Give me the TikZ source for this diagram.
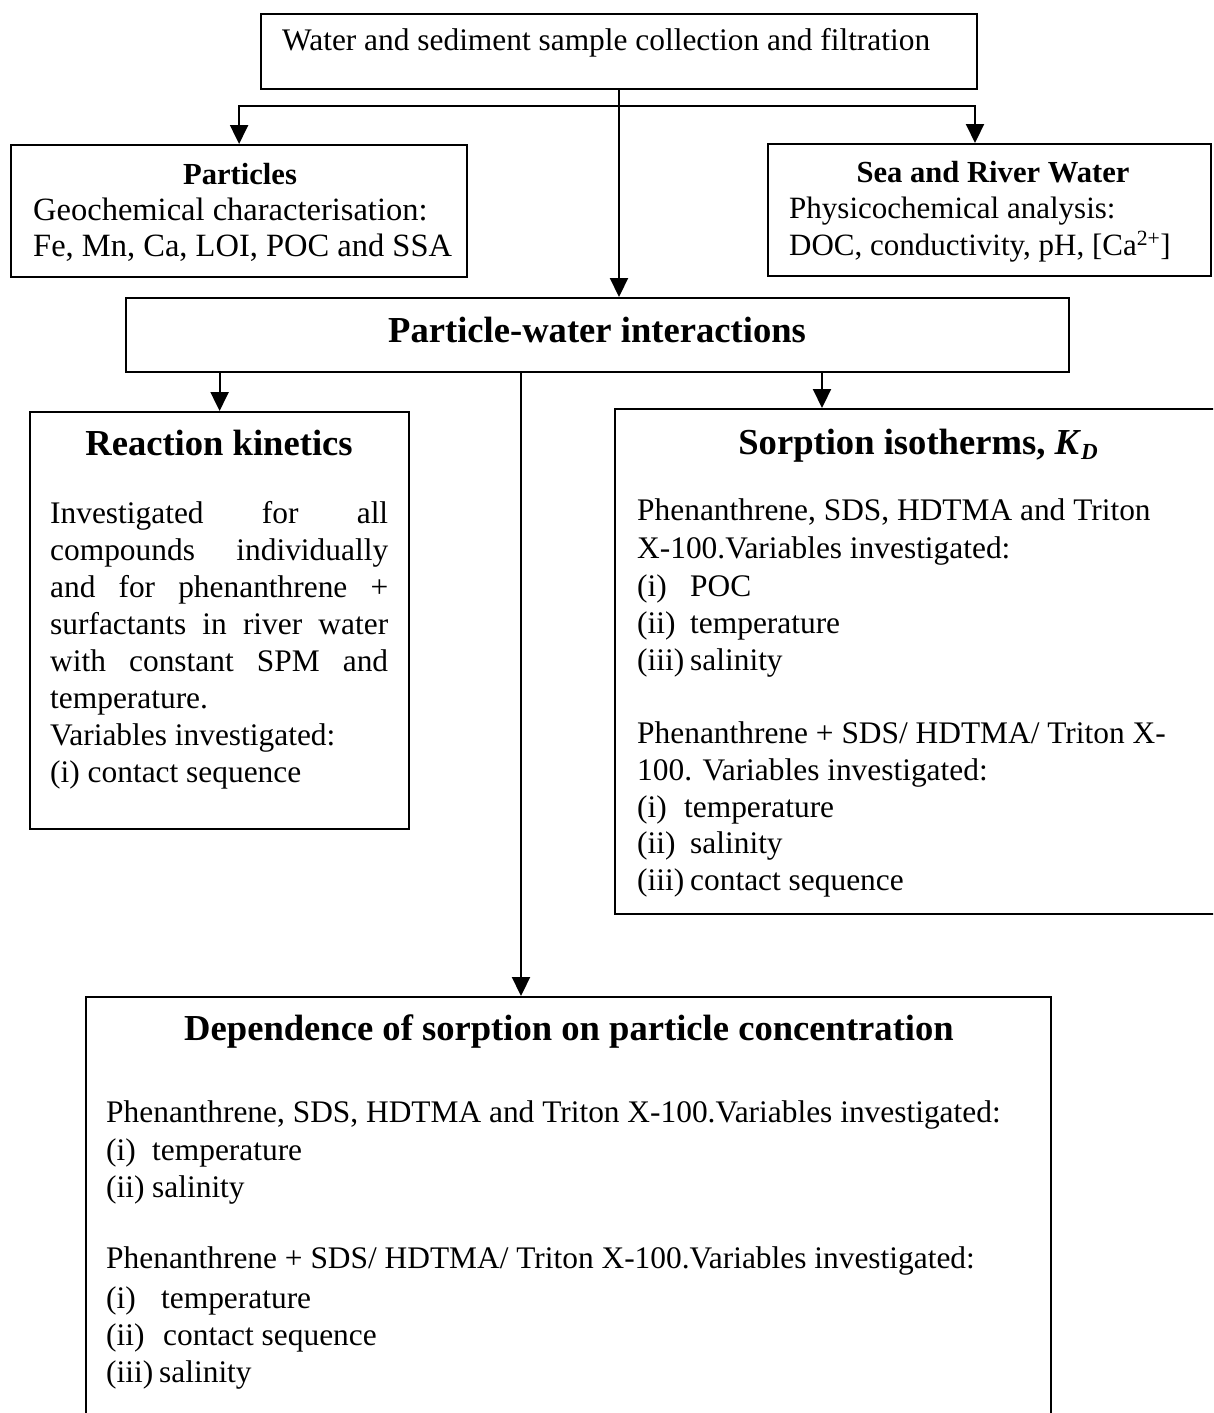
\documentclass[tikz,border=0pt]{standalone}
\usepackage{fontspec}
\setmainfont{Liberation Serif}
\usetikzlibrary{arrows.meta,calc}
\newcommand{\bodyfont}{\fontsize{31.4}{37}\selectfont}
\newcommand{\partfont}{\fontsize{32.5}{37}\selectfont}
\newcommand{\seafont}{\fontsize{31}{37}\selectfont}
\newcommand{\bigtitle}{\fontsize{36.6}{40}\selectfont\bfseries}
\newcommand{\smalltitle}{\fontsize{30.6}{36}\selectfont\bfseries}
\newcommand{\lab}[2][53pt]{\makebox[#1][l]{#2}}
\newcommand{\jline}[1]{\makebox[338pt][s]{#1}}
\begin{document}
\begin{tikzpicture}[x=1pt,y=-1pt,
  box/.style={draw, line width=2.2pt, rectangle, inner sep=0pt, anchor=north west},
  txt/.style={inner sep=0pt, anchor=base west, font=\bodyfont},
  ctr/.style={inner sep=0pt, anchor=base},
  arr/.style={line width=2.2pt, -{Triangle[length=19pt,width=18pt]}}]
\fill[white] (0,0) rectangle (1213,1413);
\clip (0,0) rectangle (1213,1413);

% boxes
\node[box, minimum width=716pt, minimum height=75pt] (top) at (260,13) {};
\node[box, minimum width=456pt, minimum height=132pt] (part) at (10,144) {};
\node[box, minimum width=443pt, minimum height=132pt] (sea) at (767,143) {};
\node[box, minimum width=943pt, minimum height=74pt] (pw) at (125,297) {};
\node[box, minimum width=379pt, minimum height=417pt] (react) at (29,411) {};
\node[box, minimum width=620pt, minimum height=505pt] (sorp) at (614,408) {};
\node[box, minimum width=965pt, minimum height=440pt] (dep) at (85,996) {};

% texts
\node[txt] (t1) at (282,51) {Water and sediment sample collection and filtration};

\node[ctr, font=\smalltitle] (p0) at (240,184) {Particles};
\node[txt, font=\partfont] (p1) at (33,220) {Geochemical characterisation:};
\node[txt, font=\partfont] (p2) at (33,256) {Fe, Mn, Ca, LOI, POC and SSA};

\node[ctr, font=\smalltitle] (s0) at (993,182) {Sea and River Water};
\node[txt, font=\seafont] (s1) at (789,218) {Physicochemical analysis:};
\node[txt, font=\seafont] (s2) at (789,255) {DOC, conductivity, pH, [Ca\textsuperscript{2+}]};

\node[ctr, font=\bigtitle] (w0) at (597,342) {Particle-water interactions};

\node[ctr, font=\bigtitle] (r0) at (219,455) {Reaction kinetics};
\node[txt] (r1) at (50,523) {\jline{Investigated for all}};
\node[txt] (r2) at (50,560) {\jline{compounds individually}};
\node[txt] (r3) at (50,597) {\jline{and for phenanthrene +}};
\node[txt] (r4) at (50,634) {\jline{surfactants in river water}};
\node[txt] (r5) at (50,671) {\jline{with constant SPM and}};
\node[txt] (r6) at (50,708) {temperature.};
\node[txt] (r7) at (50,745) {Variables investigated:};
\node[txt] (r8) at (50,782) {(i) contact sequence};

\node[ctr, font=\bigtitle] (o0) at (918,454) {Sorption isotherms, \textit{K}\raisebox{-5pt}{\fontsize{23}{23}\selectfont\textit{D}}};
\node[txt] (o1) at (637,520) {Phenanthrene, SDS, HDTMA and Triton};
\node[txt] (o2) at (637,558) {X-100.Variables investigated:};
\node[txt] (o3) at (637,596) {\lab{(i)}POC};
\node[txt] (o4) at (637,633) {\lab{(ii)}temperature};
\node[txt] (o5) at (637,670) {\lab{(iii)}salinity};
\node[txt] (o6) at (637,743) {Phenanthrene + SDS/ HDTMA/ Triton X-};
\node[txt] (o7) at (637,780) {100. Variables investigated:};
\node[txt] (o8) at (637,817) {\lab[47pt]{(i)}temperature};
\node[txt] (o9) at (637,853) {\lab{(ii)}salinity};
\node[txt] (o10) at (637,890) {\lab{(iii)}contact sequence};

\node[ctr, font=\bigtitle] (d0) at (569,1040) {Dependence of sorption on particle concentration};
\node[txt] (d1) at (106,1122) {Phenanthrene, SDS, HDTMA and Triton X-100.Variables investigated:};
\node[txt] (d2) at (106,1160) {\lab[46pt]{(i)}temperature};
\node[txt] (d3) at (106,1197) {\lab[46pt]{(ii)}salinity};
\node[txt] (d4) at (106,1268) {Phenanthrene + SDS/ HDTMA/ Triton X-100.Variables investigated:};
\node[txt] (d5) at (106,1308) {\lab[55pt]{(i)}temperature};
\node[txt] (d6) at (106,1345) {\lab[57pt]{(ii)}contact sequence};
\node[txt] (d7) at (106,1382) {\lab[53pt]{(iii)}salinity};

% connectors
\coordinate (j) at (619,106);
\coordinate (sx) at (822,0);
\coordinate (dx) at (521,0);
\draw[arr] (top.south -| j) -- (pw.north -| j);
\draw[arr] (j) -| (part.north);
\draw[arr] (j) -| ($(sea.north west)+(208,0)$);
\draw[arr] (pw.south -| react.north) -- (react.north);
\draw[arr] (pw.south -| sx) -- (sorp.north -| sx);
\draw[arr] (pw.south -| dx) -- (dep.north -| dx);
\end{tikzpicture}
\end{document}
